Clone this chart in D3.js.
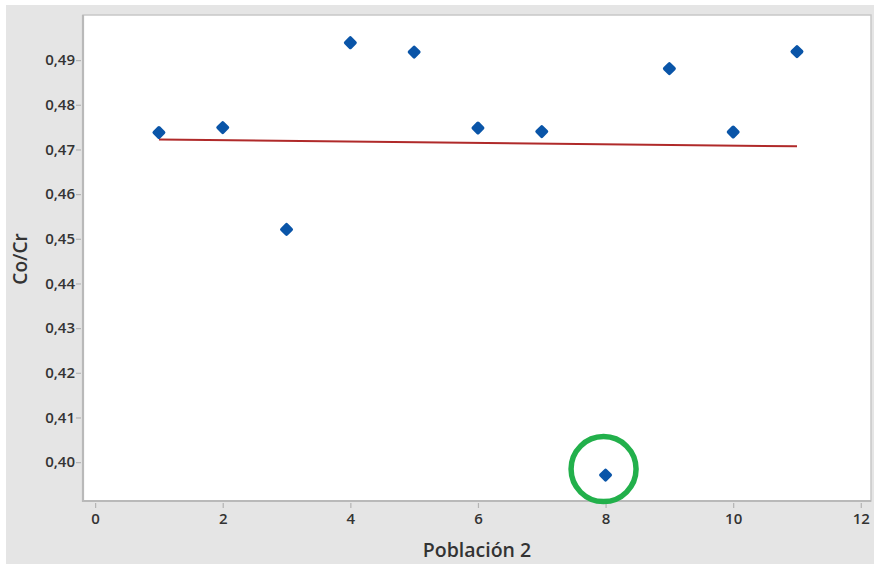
<!DOCTYPE html>
<html>
<head>
<meta charset="utf-8">
<script src="https://cdn.jsdelivr.net/npm/d3@7"></script>
<style>
  html, body { margin: 0; padding: 0; background: #ffffff; }
  svg { display: block; }
  text { font-family: "Open Sans", "Noto Sans", sans-serif; }
</style>
</head>
<body>
<script>
// Co/Cr ratio for each sample of Población 2
const poblacion = [1, 2, 3, 4, 5, 6, 7, 8, 9, 10, 11];
const coCr = [0.4738, 0.4749, 0.4521, 0.4939, 0.4918, 0.4748, 0.4740, 0.3971, 0.4881, 0.4739, 0.4919];
const xTicks = [0, 2, 4, 6, 8, 10, 12];
const yTicks = [0.40, 0.41, 0.42, 0.43, 0.44, 0.45, 0.46, 0.47, 0.48, 0.49];
const highlighted = [8]; // sample flagged as outlier

const W = 874, H = 564;
const plot = { left: 83, top: 15, right: 871, bottom: 501 };

const svg = d3.select("body").append("svg").attr("width", W).attr("height", H);

// outer panel
svg.append("rect").attr("x", 6).attr("y", 5).attr("width", W - 6).attr("height", H - 5).attr("fill", "#e5e5e5");
// data region
svg.append("rect").attr("x", plot.left).attr("y", plot.top)
  .attr("width", plot.right - plot.left).attr("height", plot.bottom - plot.top)
  .attr("fill", "#ffffff").attr("stroke", "#c8c8c8").attr("stroke-width", 1.5);

const x = d3.scaleLinear().domain([-0.19, 12.16]).range([plot.left, plot.right]);
const y = d3.scaleLinear().domain([0.3913, 0.5001]).range([plot.bottom, plot.top]);

const fmt = d => d3.format(".2f")(d).replace(".", ",");

// axes
const yAxis = svg.append("g").attr("transform", `translate(${plot.left - 2},0)`)
  .call(d3.axisLeft(y).tickValues(yTicks).tickFormat(fmt).tickSize(5).tickSizeOuter(0));
const xAxis = svg.append("g").attr("transform", `translate(0,${plot.bottom + 2})`)
  .call(d3.axisBottom(x).tickValues(xTicks).tickFormat(d3.format("d")).tickSize(5).tickSizeOuter(0));

[yAxis, xAxis].forEach(g => {
  g.select(".domain").remove();
  g.selectAll(".tick line").attr("stroke", "#b4b4b4").attr("stroke-width", 1.2);
  g.selectAll(".tick text").attr("fill", "#333333").style("font-size", "15px").style("font-weight", 600);
});
yAxis.selectAll(".tick text").attr("x", -6);
xAxis.selectAll(".tick text").attr("y", 10);

// left and bottom axis lines
svg.append("line").attr("x1", plot.left).attr("x2", plot.left).attr("y1", plot.top).attr("y2", plot.bottom + 1)
  .attr("stroke", "#b9b9b9").attr("stroke-width", 2.2);
svg.append("line").attr("x1", plot.left - 1).attr("x2", plot.right).attr("y1", plot.bottom).attr("y2", plot.bottom)
  .attr("stroke", "#b9b9b9").attr("stroke-width", 2.2);

// axis titles
svg.append("text").attr("transform", `translate(27,${(plot.top + plot.bottom) / 2 + 1}) rotate(-90)`)
  .attr("text-anchor", "middle").attr("fill", "#333333")
  .style("font-size", "19px").style("font-weight", 600).text("Co/Cr");
svg.append("text").attr("x", 477).attr("y", 557)
  .attr("text-anchor", "middle").attr("fill", "#333333")
  .style("font-size", "19.5px").style("font-weight", 600).text("Población 2");

// least-squares fit line
const n = poblacion.length;
const mx = d3.mean(poblacion), my = d3.mean(coCr);
let sxy = 0, sxx = 0;
for (let i = 0; i < n; i++) { sxy += (poblacion[i] - mx) * (coCr[i] - my); sxx += (poblacion[i] - mx) ** 2; }
const slope = sxy / sxx, intercept = my - slope * mx;
const xMin = d3.min(poblacion), xMax = d3.max(poblacion);
svg.append("line")
  .attr("x1", x(xMin)).attr("y1", y(intercept + slope * xMin))
  .attr("x2", x(xMax)).attr("y2", y(intercept + slope * xMax))
  .attr("stroke", "#b02a2a").attr("stroke-width", 2);

// points
const pts = poblacion.map((p, i) => ({ p, v: coCr[i] }));
svg.append("g").selectAll("path").data(pts).join("path")
  .attr("transform", d => `translate(${x(d.p)},${y(d.v)}) rotate(45)`)
  .attr("d", "M-3.3,-3.3H3.3V3.3H-3.3Z")
  .attr("stroke", "#0a55a8").attr("stroke-width", 3.6).attr("stroke-linejoin", "round")
  .attr("fill", "#0a55a8");

// outlier ring
svg.append("g").selectAll("circle").data(pts.filter(d => highlighted.includes(d.p))).join("circle")
  .attr("cx", d => x(d.p) - 2).attr("cy", d => y(d.v) - 6).attr("r", 32.5)
  .attr("fill", "none").attr("stroke", "#22b04b").attr("stroke-width", 5.5);
</script>
</body>
</html>
